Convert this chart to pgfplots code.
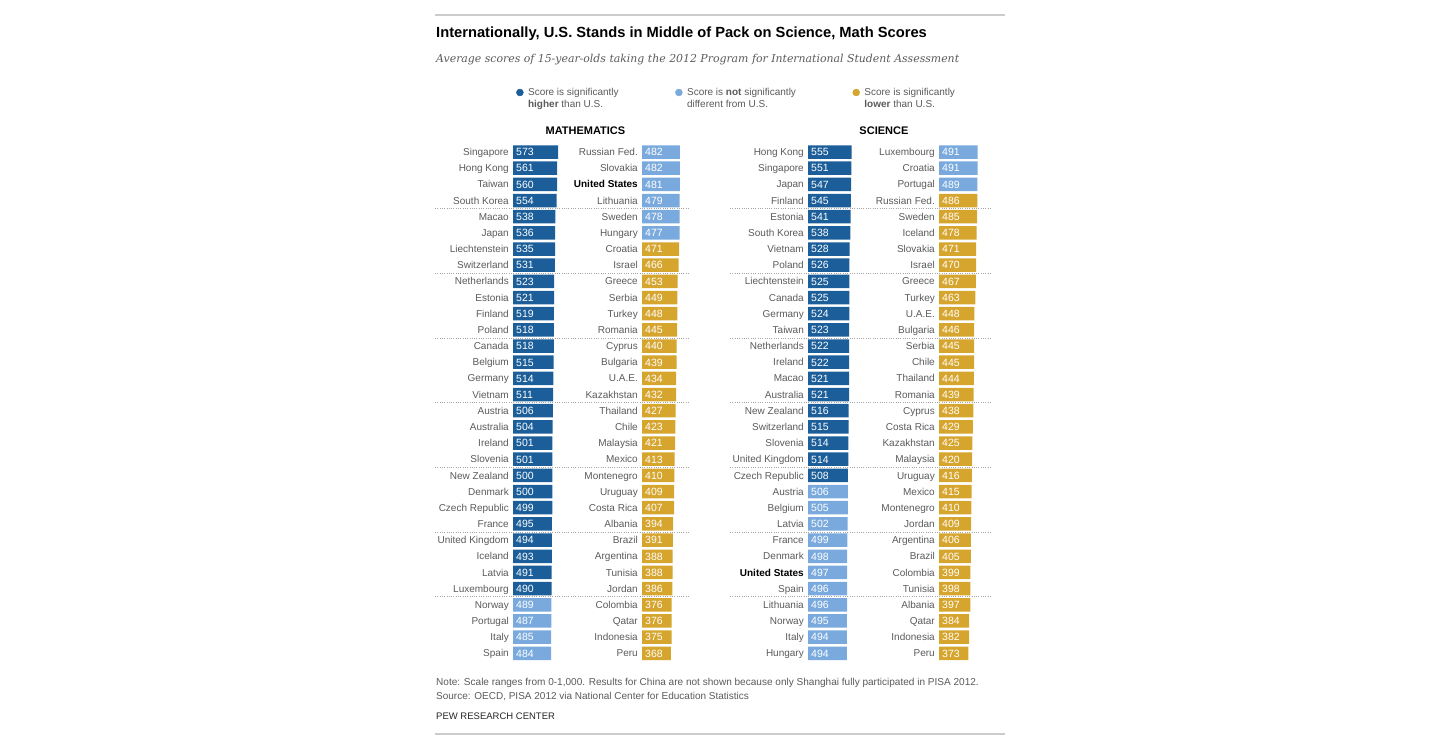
\documentclass[border=0pt]{standalone}
\usepackage{pgfplots}
\pgfplotsset{compat=1.18}
\usepackage{pgfplotstable}
\usepackage{fontspec}
\setmainfont{Liberation Sans}
\newfontfamily\serifit{DejaVu Serif}
\definecolor{dark}{HTML}{1B5E99}
\definecolor{light}{HTML}{7AAADD}
\definecolor{gold}{HTML}{D6A52E}
\definecolor{txt}{HTML}{5A5A5A}
\definecolor{rulec}{HTML}{CCCCCC}
\newcommand{\US}{\textbf{\textcolor{black}{United States}}}

\pgfplotstableread[col sep=comma]{
row,name,score
0,Singapore,573
1,Hong Kong,561
2,Taiwan,560
3,South Korea,554
4,Macao,538
5,Japan,536
6,Liechtenstein,535
7,Switzerland,531
8,Netherlands,523
9,Estonia,521
10,Finland,519
11,Poland,518
12,Canada,518
13,Belgium,515
14,Germany,514
15,Vietnam,511
16,Austria,506
17,Australia,504
18,Ireland,501
19,Slovenia,501
20,New Zealand,500
21,Denmark,500
22,Czech Republic,499
23,France,495
24,United Kingdom,494
25,Iceland,493
26,Latvia,491
27,Luxembourg,490
28,Norway,489
29,Portugal,487
30,Italy,485
31,Spain,484
}\mathL

\pgfplotstableread[col sep=comma]{
row,name,score
0,Russian Fed.,482
1,Slovakia,482
2,\US,481
3,Lithuania,479
4,Sweden,478
5,Hungary,477
6,Croatia,471
7,Israel,466
8,Greece,453
9,Serbia,449
10,Turkey,448
11,Romania,445
12,Cyprus,440
13,Bulgaria,439
14,U.A.E.,434
15,Kazakhstan,432
16,Thailand,427
17,Chile,423
18,Malaysia,421
19,Mexico,413
20,Montenegro,410
21,Uruguay,409
22,Costa Rica,407
23,Albania,394
24,Brazil,391
25,Argentina,388
26,Tunisia,388
27,Jordan,386
28,Colombia,376
29,Qatar,376
30,Indonesia,375
31,Peru,368
}\mathR

\pgfplotstableread[col sep=comma]{
row,name,score
0,Hong Kong,555
1,Singapore,551
2,Japan,547
3,Finland,545
4,Estonia,541
5,South Korea,538
6,Vietnam,528
7,Poland,526
8,Liechtenstein,525
9,Canada,525
10,Germany,524
11,Taiwan,523
12,Netherlands,522
13,Ireland,522
14,Macao,521
15,Australia,521
16,New Zealand,516
17,Switzerland,515
18,Slovenia,514
19,United Kingdom,514
20,Czech Republic,508
21,Austria,506
22,Belgium,505
23,Latvia,502
24,France,499
25,Denmark,498
26,\US,497
27,Spain,496
28,Lithuania,496
29,Norway,495
30,Italy,494
31,Hungary,494
}\sciL

\pgfplotstableread[col sep=comma]{
row,name,score
0,Luxembourg,491
1,Croatia,491
2,Portugal,489
3,Russian Fed.,486
4,Sweden,485
5,Iceland,478
6,Slovakia,471
7,Israel,470
8,Greece,467
9,Turkey,463
10,U.A.E.,448
11,Bulgaria,446
12,Serbia,445
13,Chile,445
14,Thailand,444
15,Romania,439
16,Cyprus,438
17,Costa Rica,429
18,Kazakhstan,425
19,Malaysia,420
20,Uruguay,416
21,Mexico,415
22,Montenegro,410
23,Jordan,409
24,Argentina,406
25,Brazil,405
26,Colombia,399
27,Tunisia,398
28,Albania,397
29,Qatar,384
30,Indonesia,382
31,Peru,373
}\sciR

\def\ytop{604.085pt}

\pgfplotsset{
  rows/.style={y=16.17pt, y dir=reverse, ymin=-0.5, ymax=31.5,
    anchor=north west, axis line style={draw=none}, xtick=\empty,
    major tick length=0pt, clip=false},
  col/.style={rows, x=0.0787pt, xmin=0, xmax=600, ytick={0,...,31},
    yticklabel style={font=\fontsize{10}{12}\selectfont, text=txt,
      anchor=base east, inner sep=0pt, xshift=-4pt, yshift=-3.6pt}},
  gridax/.style={rows, x=1pt, xmin=0, xmax=#1, ytick=\empty,
    extra y ticks={3.5,7.5,11.5,15.5,19.5,23.5,27.5},
    extra y tick labels={},
    extra y tick style={ymajorgrids=true, major tick length=0pt},
    major grid style={black!35, line width=0.9pt, dash pattern=on 0.9pt off 1.4pt}},
  bars/.style={xbar, bar shift=0pt, bar width=13.5pt, draw=none, fill=#1},
  vals/.style={draw=none, mark=none, nodes near coords, point meta=explicit symbolic,
    every node near coord/.append style={anchor=base west, inner sep=0pt,
      xshift=3pt, yshift=-3.8pt, text=white, font=\fontsize{10.5}{12}\selectfont}},
}

\begin{document}
\begin{tikzpicture}
\useasboundingbox (0,0) rectangle (1440pt,748pt);

% rules and texts
\draw[rulec, line width=1.3pt] (435pt,733pt) -- (1005pt,733pt);
\draw[rulec, line width=1.3pt] (435pt,14pt) -- (1005pt,14pt);
\node[anchor=base west, inner sep=0pt, font=\fontsize{14.7}{17}\selectfont\bfseries]
  at (436pt,710pt) {Internationally, U.S. Stands in Middle of Pack on Science, Math Scores};
\node[anchor=base west, inner sep=0pt, text=txt, font=\serifit\itshape\fontsize{10.9}{13}\selectfont]
  at (436pt,685pt) {Average scores of 15-year-olds taking the 2012 Program for International Student Assessment};
\node[anchor=base west, inner sep=0pt, text=txt, font=\fontsize{10.05}{12}\selectfont]
  at (436pt,62.5pt) {Note: Scale ranges from 0-1,000. Results for China are not shown because only Shanghai fully participated in PISA 2012.};
\node[anchor=base west, inner sep=0pt, text=txt, font=\fontsize{10}{12}\selectfont]
  at (436pt,48.5pt) {Source: OECD, PISA 2012 via National Center for Education Statistics};
\node[anchor=base west, inner sep=0pt, text=black!85, font=\fontsize{9.5}{11}\selectfont]
  at (436pt,28.5pt) {PEW RESEARCH CENTER};

% math grid + legend
\begin{axis}[gridax=255, at={(435pt,\ytop)},
  title={MATHEMATICS},
  every axis title/.style={at={(0.59,1)}, anchor=base, yshift=9.9pt, inner sep=0pt,
    font=\fontsize{11}{13}\selectfont\bfseries},
  legend columns=3, legend cell align=left,
  legend image code/.code={\fill (3.5pt,3.2pt) circle (3.5pt);},
  legend style={at={(0.3176,1.1098)}, anchor=north west, draw=none, fill=none,
    inner sep=0pt, font=\fontsize{10}{12}\selectfont, text=txt,
    nodes={inner sep=0pt, anchor=base west},
    /tikz/every even column/.append style={column sep=56.5pt}},
]
\addplot[draw=none, forget plot] coordinates {(0,0)};
\addlegendimage{color=dark}
\addlegendentry{\hspace*{4.5pt}\begin{tabular}[t]{@{}l@{}}Score is significantly\\\textbf{higher} than U.S.\end{tabular}}
\addlegendimage{color=light}
\addlegendentry{\hspace*{4.5pt}\begin{tabular}[t]{@{}l@{}}Score is \textbf{not} significantly\\different from U.S.\end{tabular}}
\addlegendimage{color=gold}
\addlegendentry{\hspace*{4.5pt}\begin{tabular}[t]{@{}l@{}}Score is significantly\\\textbf{lower} than U.S.\end{tabular}}
\end{axis}

% science grid
\begin{axis}[gridax=260, at={(730pt,\ytop)},
  title={SCIENCE},
  every axis title/.style={at={(0.592,1)}, anchor=base, yshift=9.9pt, inner sep=0pt,
    font=\fontsize{11}{13}\selectfont\bfseries},
]
\addplot[draw=none] coordinates {(0,0)};
\end{axis}

% math left
\begin{axis}[col, at={(513pt,\ytop)}, yticklabels from table={\mathL}{name}]
\addplot[bars=dark, skip coords between index={28}{32}] table[x=score,y=row]{\mathL};
\addplot[bars=light, skip coords between index={0}{28}] table[x=score,y=row]{\mathL};
\addplot[vals] table[x expr=0, y=row, meta=score]{\mathL};
\end{axis}

% math right
\begin{axis}[col, at={(642pt,\ytop)}, yticklabels from table={\mathR}{name}]
\addplot[bars=light, skip coords between index={6}{32}] table[x=score,y=row]{\mathR};
\addplot[bars=gold, skip coords between index={0}{6}] table[x=score,y=row]{\mathR};
\addplot[vals] table[x expr=0, y=row, meta=score]{\mathR};
\end{axis}

% science left
\begin{axis}[col, at={(808pt,\ytop)}, yticklabels from table={\sciL}{name}]
\addplot[bars=dark, skip coords between index={21}{32}] table[x=score,y=row]{\sciL};
\addplot[bars=light, skip coords between index={0}{21}] table[x=score,y=row]{\sciL};
\addplot[vals] table[x expr=0, y=row, meta=score]{\sciL};
\end{axis}

% science right
\begin{axis}[col, at={(939pt,\ytop)}, yticklabels from table={\sciR}{name}]
\addplot[bars=light, skip coords between index={3}{32}] table[x=score,y=row]{\sciR};
\addplot[bars=gold, skip coords between index={0}{3}] table[x=score,y=row]{\sciR};
\addplot[vals] table[x expr=0, y=row, meta=score]{\sciR};
\end{axis}
\end{tikzpicture}
\end{document}
